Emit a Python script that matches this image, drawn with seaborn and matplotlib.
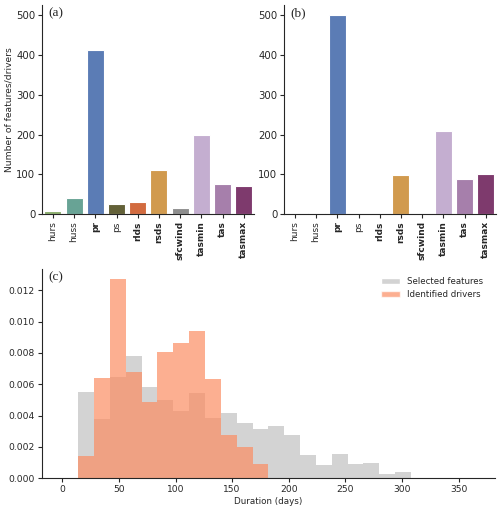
import numpy as np
import pandas as pd
import seaborn as sns
import matplotlib.pyplot as plt
from matplotlib.patches import Patch

# variables and counts for panel (a) selected features and (b) identified drivers
variables = ["hurs", "huss", "pr", "ps", "rlds", "rsds", "sfcwind", "tasmin", "tas", "tasmax"]
bold_vars = ["pr", "rlds", "rsds", "sfcwind", "tasmin", "tas", "tasmax"]
n_features = [8, 42, 413, 27, 32, 111, 15, 199, 75, 70]
n_drivers = [0, 2.5, 500, 0, 0, 99, 0, 209, 88, 101]
bar_colors = ["#8aae6b", "#68a395", "#5b7cb5", "#636138", "#d26b3f",
              "#d19a4e", "#8e8e8e", "#c4aed0", "#a67fab", "#7e3a6d"]

# duration histograms (density per 14-day bin)
bin_edges = list(range(0, 365, 14))
feat_density = [0, 0.00553, 0.00377, 0.00644, 0.00778, 0.0058, 0.00501, 0.00428,
                0.00543, 0.00386, 0.00416, 0.00352, 0.00313, 0.00335, 0.00277,
                0.00149, 0.00083, 0.00158, 0.00092, 0.001, 0.00028, 0.00043,
                0, 0, 0, 0]
drv_density = [0.00005, 0.00141, 0.00638, 0.01272, 0.00678, 0.00486, 0.00808,
               0.00863, 0.00938, 0.00635, 0.00277, 0.00198, 0.00092, 0,
               0.00005, 0.00005, 0.00005, 0, 0, 0, 0, 0, 0, 0, 0, 0]

sns.set_style("ticks")
plt.rcParams["font.size"] = 6.3

fig = plt.figure(figsize=(5, 5.11), dpi=100)
ax_a = fig.add_axes([0.0846, 0.5806, 0.424, 0.4096])
ax_b = fig.add_axes([0.5686, 0.5806, 0.424, 0.4096])
ax_c = fig.add_axes([0.0834, 0.064, 0.9066, 0.4096])

for ax, vals, lab in [(ax_a, n_features, "(a)"), (ax_b, n_drivers, "(b)")]:
    sns.barplot(x=variables, y=vals, hue=variables, palette=bar_colors,
                saturation=1, legend=False, edgecolor="white", linewidth=0.8, ax=ax)
    ax.set_ylim(0, 525)
    ax.set_yticks([0, 100, 200, 300, 400, 500])
    ax.tick_params(axis="x", rotation=90, labelsize=6.5, length=3, width=0.8, pad=2)
    ax.tick_params(axis="y", labelsize=7.3, length=3, width=0.8, pad=2)
    for t in ax.get_xticklabels():
        if t.get_text() in bold_vars:
            t.set_fontweight("bold")
    ax.text(0.03, 0.99, lab, transform=ax.transAxes, va="top", ha="left",
            fontsize=9.5, family="Liberation Serif")
    sns.despine(ax=ax)
ax_a.set_ylabel("Number of features/drivers", fontsize=6.6, labelpad=2)

hist_df = pd.DataFrame({
    "duration": [e + 7 for e in bin_edges[:-1]],
    "features": feat_density,
    "drivers": drv_density,
})
sns.histplot(data=hist_df, x="duration", weights="features", bins=bin_edges,
             element="step", fill=True, color="#d3d3d3", alpha=1, linewidth=0, ax=ax_c)
sns.histplot(data=hist_df, x="duration", weights="drivers", bins=bin_edges,
             element="step", fill=True, color="#fc8d62", alpha=0.7, linewidth=0, ax=ax_c)
ax_c.set_ylabel("")
ax_c.set_xlabel("Duration (days)", fontsize=6.3, labelpad=2)
ax_c.set_xticks([0, 50, 100, 150, 200, 250, 300, 350])
ax_c.set_yticks(np.arange(0, 0.0121, 0.002))
ax_c.yaxis.set_major_formatter(plt.FormatStrFormatter("%.3f"))
ax_c.tick_params(labelsize=6.6, length=3, width=0.8, pad=2)
ax_c.text(0.015, 0.99, "(c)", transform=ax_c.transAxes, va="top", ha="left",
          fontsize=9.5, family="Liberation Serif")
handles = [Patch(facecolor="#d3d3d3", label="Selected features"),
           Patch(facecolor="#fc8d62", alpha=0.7, label="Identified drivers")]
ax_c.legend(handles=handles, loc="upper right", frameon=False, fontsize=6.2,
            handlelength=2.2, bbox_to_anchor=(0.99, 1.0))
sns.despine(ax=ax_c)

fig.savefig("out.png", dpi=100)
